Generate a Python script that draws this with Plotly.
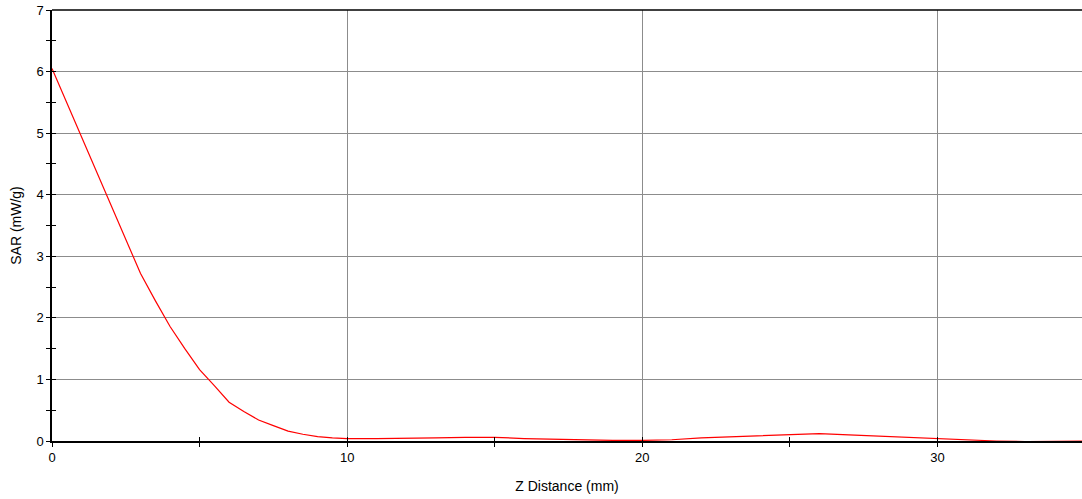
import plotly.graph_objects as go

z_mm = [0, 1, 2, 2.5, 3, 3.5, 4, 4.5, 5, 5.5, 6, 6.5, 7, 7.5, 8, 8.5, 9,
        9.5, 10, 11, 12, 13, 14, 15, 16, 17, 18, 19, 20, 21, 22, 23, 24,
        25, 26, 27, 28, 29, 30, 31, 32, 33, 34, 35]
sar = [6.05, 4.95, 3.85, 3.28, 2.72, 2.28, 1.86, 1.5, 1.16, 0.9, 0.63,
       0.48, 0.34, 0.25, 0.16, 0.11, 0.07, 0.05, 0.04, 0.04, 0.04, 0.05,
       0.06, 0.06, 0.04, 0.03, 0.01, 0.01, 0.01, 0.02, 0.05, 0.07, 0.09,
       0.10, 0.12, 0.10, 0.08, 0.05, 0.04, 0.02, 0.0, -0.01, -0.01, 0.0]

x_ticks = [0, 10, 20, 30]
y_ticks = [0, 1, 2, 3, 4, 5, 6, 7]

FONT = "Liberation Sans, Arial, sans-serif"

fig = go.Figure()
fig.add_trace(go.Scatter(x=z_mm, y=sar, mode="lines",
                         line=dict(color="#ff0000", width=1.2),
                         showlegend=False, hoverinfo="skip"))
# empty trace to activate overlay axes (inside half of crossing ticks)
fig.add_trace(go.Scatter(x=[], y=[], xaxis="x2", yaxis="y2", showlegend=False))

xr = [0, 34.9]
yr = [0, 7]

fig.update_layout(
    width=1082, height=499,
    margin=dict(l=52, r=0, t=10, b=58),
    plot_bgcolor="white", paper_bgcolor="white",
    font=dict(family=FONT, size=13, color="black"),
    xaxis=dict(range=xr, tickvals=x_ticks, showgrid=True, gridcolor="#8c8c8c",
               gridwidth=1, zeroline=False, showline=True, linecolor="black",
               linewidth=1.5, ticks="outside", ticklen=4, tickcolor="black",
               automargin=False,
               minor=dict(ticks="outside", dtick=5, ticklen=4, tickcolor="black",
                          showgrid=False),
               title=dict(text="Z Distance (mm)", standoff=17,
                          font=dict(size=14))),
    yaxis=dict(range=yr, tickvals=y_ticks, showgrid=True, gridcolor="#8c8c8c",
               gridwidth=1, zeroline=False, showline=True, linecolor="black",
               linewidth=1.5, ticks="outside", ticklen=4, tickcolor="black",
               automargin=False,
               minor=dict(ticks="outside", dtick=0.5, ticklen=4,
                          tickcolor="black", showgrid=False),
               title=dict(text="SAR (mW/g)", standoff=12,
                          font=dict(size=14))),
    xaxis2=dict(range=xr, overlaying="x", anchor="y2", side="bottom",
                showgrid=False, zeroline=False, showticklabels=False,
                ticks="inside", tickmode="linear", tick0=0, dtick=5,
                ticklen=4, tickcolor="black", showline=False, automargin=False),
    yaxis2=dict(range=yr, overlaying="y", anchor="x2", side="left",
                showgrid=False, zeroline=False, showticklabels=False,
                ticks="inside", tickmode="linear", tick0=0, dtick=0.5,
                ticklen=4, tickcolor="black", showline=False, automargin=False),
    shapes=[dict(type="line", xref="paper", yref="paper", x0=0, x1=1,
                 y0=1, y1=1, line=dict(color="black", width=1.5))],
)

fig.write_html("out.html",
               config={"displayModeBar": False},
               post_script="document.body.style.margin='0';"
                           "document.body.style.overflow='hidden';")
